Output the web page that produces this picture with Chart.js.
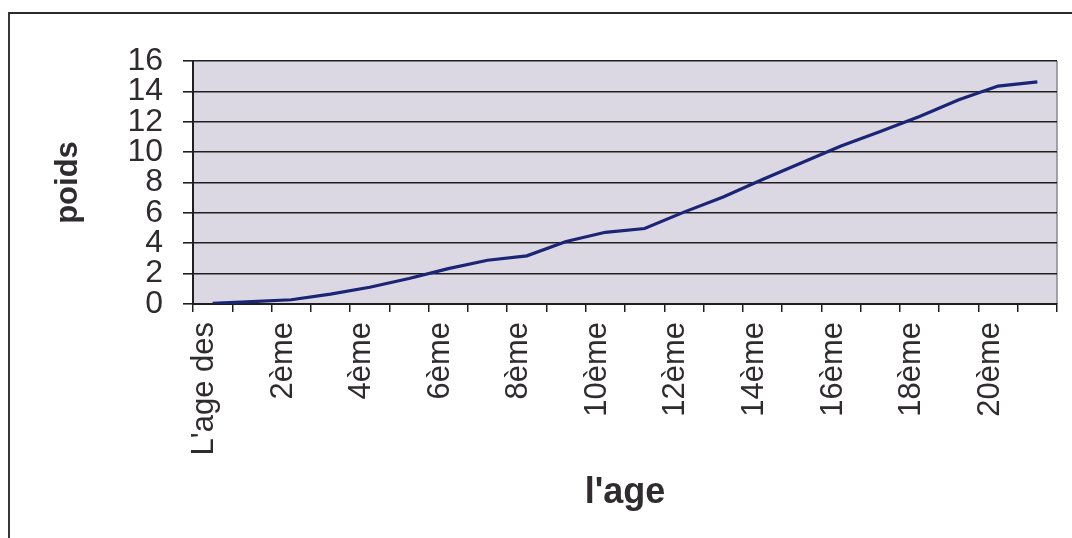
<!DOCTYPE html>
<html lang="fr">
<head>
<meta charset="utf-8">
<title>poids / l'age</title>
<script src="https://cdn.jsdelivr.net/npm/chart.js@4.4.1/dist/chart.umd.min.js"></script>
<style>
  html, body { margin: 0; padding: 0; background: #ffffff; }
  #wrap { position: relative; width: 1072px; height: 538px; overflow: hidden; }
  #frame {
    position: absolute; left: 8px; top: 12px; right: 0; bottom: 0;
    border-top: 2px solid #2e2a2c; border-left: 2px solid #3a3638;
    pointer-events: none;
  }
  canvas { position: absolute; left: 0; top: 0; }
</style>
</head>
<body>
<div id="wrap">
  <canvas id="chart" width="1072" height="538"></canvas>
  <div id="frame"></div>
</div>
<script>
// Categories (age steps) and weight values
const categories = [
  "L'age des", "1ère", "2ème", "3ème", "4ème", "5ème", "6ème", "7ème",
  "8ème", "9ème", "10ème", "11ème", "12ème", "13ème", "14ème", "15ème",
  "16ème", "17ème", "18ème", "19ème", "20ème", "21ème"
];
const poids = [
  0.05, 0.16, 0.28, 0.65, 1.1, 1.68, 2.33, 2.88,
  3.17, 4.12, 4.72, 4.97, 6.05, 7.05, 8.2, 9.3,
  10.4, 11.35, 12.35, 13.45, 14.35, 14.62
];
const yTicks = [0, 2, 4, 6, 8, 10, 12, 14, 16];

const FONT = "'Liberation Sans', Arial, Helvetica, sans-serif";
const INK = '#2f2b2f';
const GRID = '#221e20';

// Plot-area background and right edge
const plotBackground = {
  id: 'plotBackground',
  beforeDraw(chart) {
    const { ctx, chartArea: a } = chart;
    ctx.save();
    ctx.fillStyle = '#dcd8e3';
    ctx.fillRect(a.left, a.top, a.right - a.left, a.bottom - a.top);
    ctx.strokeStyle = '#8a8790';
    ctx.lineWidth = 1.5;
    ctx.beginPath();
    ctx.moveTo(a.right, a.top);
    ctx.lineTo(a.right, a.bottom);
    ctx.stroke();
    ctx.restore();
  }
};

new Chart(document.getElementById('chart'), {
  type: 'line',
  data: {
    labels: categories,
    datasets: [{
      label: 'poids',
      data: poids,
      borderColor: '#1b2576',
      borderWidth: 3.2,
      pointRadius: 0,
      tension: 0,
      fill: false
    }]
  },
  options: {
    responsive: false,
    animation: false,
    layout: { padding: { left: 10, top: 61, right: 15, bottom: 0 } },
    plugins: { legend: { display: false }, tooltip: { enabled: false } },
    scales: {
      x: {
        type: 'category',
        offset: true,
        afterFit(scale) {
          scale.height = 234;
          scale.paddingLeft = 0;
          scale.paddingRight = 0;
        },
        grid: {
          offset: true,
          drawOnChartArea: false,
          drawTicks: true,
          tickLength: 8,
          color: GRID,
          lineWidth: 1.5
        },
        border: { display: true, color: GRID, width: 2 },
        ticks: {
          autoSkip: false,
          minRotation: 90,
          maxRotation: 90,
          padding: 10,
          labelOffset: -8,
          color: INK,
          font: { family: FONT, size: 31 },
          callback(value, index) {
            return index % 2 === 0 ? categories[index] : '';
          }
        },
        title: {
          display: true,
          text: "l'age",
          color: INK,
          font: { family: FONT, size: 36, weight: 'bold' },
          padding: { top: 0, bottom: 23 }
        }
      },
      y: {
        min: yTicks[0],
        max: yTicks[yTicks.length - 1],
        afterFit(scale) { scale.width = 183; },
        afterBuildTicks(scale) { scale.ticks = yTicks.map(v => ({ value: v })); },
        grid: {
          drawTicks: true,
          tickLength: 10,
          color: GRID,
          lineWidth: 1.6
        },
        border: { display: true, color: GRID, width: 2 },
        ticks: {
          autoSkip: false,
          padding: 20,
          color: INK,
          font: { family: FONT, size: 32 }
        },
        title: {
          display: true,
          text: 'poids',
          color: INK,
          font: { family: FONT, size: 31, weight: 'bold' },
          padding: { top: 40, bottom: 0 }
        }
      }
    }
  },
  plugins: [plotBackground]
});
</script>
</body>
</html>
